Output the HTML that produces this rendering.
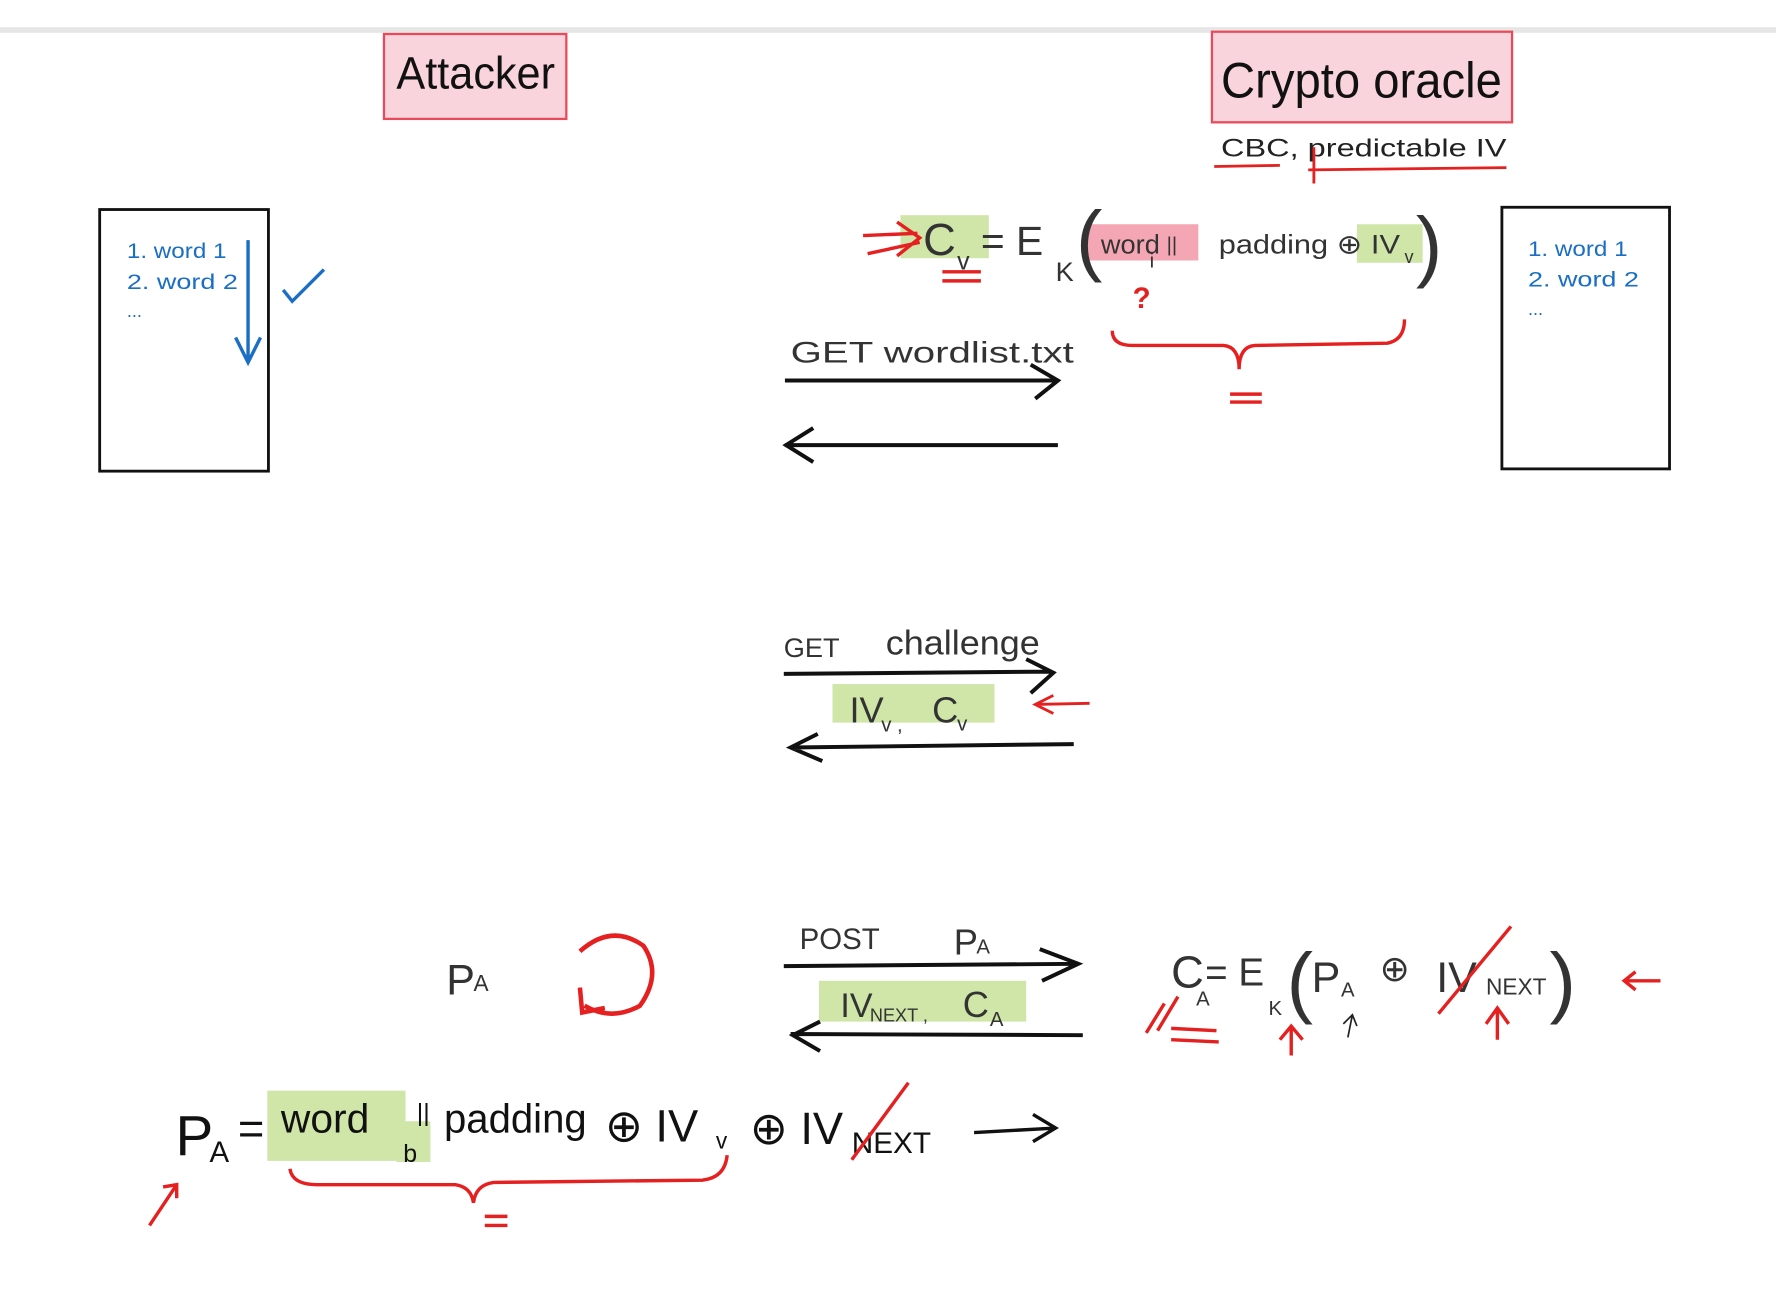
<!DOCTYPE html>
<html><head><meta charset="utf-8"><style>
html,body{margin:0;padding:0;background:#fff;}
svg{display:block}
text{font-family:"Liberation Sans",sans-serif}
</style></head><body>
<svg width="1776" height="1290" viewBox="0 0 1568 1139" preserveAspectRatio="none">
<rect x="0" y="0" width="1568" height="26" fill="#fff"/>
<rect x="0" y="24" width="1568" height="5" fill="#e6e6e6"/>
<g>
<rect x="339" y="30" width="161" height="75" fill="#f9d4dc" stroke="#e84a5a" stroke-width="2"/>
<text x="350" y="78" font-size="40" fill="#111" textLength="140" lengthAdjust="spacingAndGlyphs">Attacker</text>
</g>
<g>
<rect x="1070" y="28" width="265" height="80" fill="#f9d4dc" stroke="#e84a5a" stroke-width="2"/>
<text x="1078" y="86" font-size="44" fill="#111" textLength="248" lengthAdjust="spacingAndGlyphs">Crypto oracle</text>
<text x="1078" y="138" font-size="22" fill="#222" textLength="252" lengthAdjust="spacingAndGlyphs">CBC, predictable IV</text>
<path d="M1072 147 L1130 146 M1155 150 L1330 148 M1160 130 L1160 162" stroke="#e52020" stroke-width="2.5" fill="none"/>
</g>
<g>
<rect x="88" y="185" width="149" height="231" fill="none" stroke="#111" stroke-width="2.5"/>
<text x="112" y="228" font-size="19" fill="#1a6fc4" textLength="88" lengthAdjust="spacingAndGlyphs">1. word 1</text>
<text x="112" y="255" font-size="19" fill="#1a6fc4" textLength="98" lengthAdjust="spacingAndGlyphs">2. word 2</text>
<text x="112" y="280" font-size="16" fill="#1a6fc4">...</text>
<path d="M219 212 L219 318 M208 298 L219 320 L230 298 M250 256 L258 266 L286 238" stroke="#1a6fc4" stroke-width="3" fill="none"/>
</g>
<g>
<rect x="1326" y="183" width="148" height="231" fill="none" stroke="#111" stroke-width="2.5"/>
<text x="1349" y="226" font-size="19" fill="#1a6fc4" textLength="88" lengthAdjust="spacingAndGlyphs">1. word 1</text>
<text x="1349" y="253" font-size="19" fill="#1a6fc4" textLength="98" lengthAdjust="spacingAndGlyphs">2. word 2</text>
<text x="1349" y="278" font-size="16" fill="#1a6fc4">...</text>
</g>
<g>
<rect x="795" y="190" width="78" height="38" fill="#cfe6a8"/>
<rect x="960" y="198" width="98" height="32" fill="#f4a6b4"/>
<rect x="1198" y="198" width="58" height="34" fill="#cfe6a8"/>
<text x="815" y="225" font-size="40" fill="#333">C</text><text x="845" y="238" font-size="22" fill="#333">v</text>
<text x="866" y="225" font-size="36" fill="#333">= E</text><text x="932" y="248" font-size="24" fill="#333">K</text>
<text x="950" y="235" font-size="70" fill="#333" font-weight="100">(</text>
<text x="972" y="224" font-size="24" fill="#333">word</text><text x="1015" y="236" font-size="18" fill="#333">i</text>
<text x="1030" y="222" font-size="18" fill="#333">||</text>
<text x="1076" y="224" font-size="24" fill="#333" textLength="160" lengthAdjust="spacingAndGlyphs">padding ⊕ IV</text><text x="1240" y="232" font-size="16" fill="#333">v</text>
<text x="1250" y="240" font-size="70" fill="#333">)</text>
<path d="M762 208 L810 206 M766 224 L812 214 M792 196 L812 210 L792 226 M832 240 L866 240 M832 248 L866 248" stroke="#e52020" stroke-width="3" fill="none"/>
<text x="1000" y="272" font-size="26" fill="#e52020" font-weight="bold">?</text>
<path d="M982 292 Q982 305 1000 305 L1080 305 Q1094 306 1094 326 Q1094 306 1108 305 L1225 303 Q1240 300 1240 282 M1086 348 L1114 348 M1086 355 L1114 355" stroke="#e52020" stroke-width="3" fill="none"/>
</g>
<g>
<text x="698" y="320" font-size="26" fill="#333" textLength="250" lengthAdjust="spacingAndGlyphs">GET  wordlist.txt</text>
<path d="M693 336 L934 336 M910 322 L934 336 L914 352" stroke="#111" stroke-width="3.5" fill="none"/>
<path d="M693 393 L934 393 M718 378 L694 393 L718 408" stroke="#111" stroke-width="3.5" fill="none"/>
</g>
<g>
<text x="692" y="580" font-size="24" fill="#333">GET</text>
<text x="782" y="578" font-size="30" fill="#333" textLength="136" lengthAdjust="spacingAndGlyphs">challenge</text>
<path d="M692 595 L928 593 M906 582 L930 594 L910 612" stroke="#111" stroke-width="3.5" fill="none"/>
<rect x="735" y="604" width="143" height="34" fill="#cfe6a8"/>
<text x="750" y="638" font-size="32" fill="#333">IV</text><text x="778" y="646" font-size="18" fill="#333">v ,</text>
<text x="823" y="638" font-size="32" fill="#333">C</text><text x="845" y="645" font-size="18" fill="#333">v</text>
<path d="M914 622 L962 621 M930 614 L914 622 L930 630" stroke="#e52020" stroke-width="2.5" fill="none"/>
<path d="M698 660 L948 657 M722 648 L698 660 L726 672" stroke="#111" stroke-width="3.5" fill="none"/>
</g>
<g>
<text x="394" y="878" font-size="38" fill="#333">P</text><text x="418" y="875" font-size="20" fill="#333">A</text>
<path d="M512 840 Q540 815 568 835 Q585 860 565 888 Q540 902 516 888 M512 872 L514 894 L534 890" stroke="#e52020" stroke-width="4" fill="none"/>
<text x="706" y="838" font-size="26" fill="#333">POST</text>
<text x="842" y="843" font-size="32" fill="#333">P</text><text x="862" y="842" font-size="18" fill="#333">A</text>
<path d="M692 853 L952 851 M918 838 L952 851 L920 866" stroke="#111" stroke-width="3.5" fill="none"/>
<rect x="723" y="866" width="183" height="36" fill="#cfe6a8"/>
<text x="742" y="898" font-size="30" fill="#333">IV</text><text x="768" y="902" font-size="16" fill="#333">NEXT ,</text>
<text x="850" y="898" font-size="32" fill="#333">C</text><text x="874" y="906" font-size="18" fill="#333">A</text>
<path d="M698 913 L956 914 M724 902 L700 914 L724 928" stroke="#111" stroke-width="3.5" fill="none"/>
</g>
<g>
<text x="1034" y="872" font-size="40" fill="#333">C</text><text x="1056" y="888" font-size="18" fill="#333">A</text>
<text x="1064" y="870" font-size="34" fill="#333">= E</text><text x="1120" y="896" font-size="18" fill="#333">K</text>
<text x="1136" y="890" font-size="70" fill="#333">(</text>
<text x="1158" y="876" font-size="38" fill="#333">P</text><text x="1184" y="880" font-size="18" fill="#333">A</text>
<text x="1218" y="866" font-size="32" fill="#333">⊕</text>
<text x="1268" y="876" font-size="38" fill="#333">IV</text><text x="1312" y="878" font-size="20" fill="#333">NEXT</text>
<text x="1368" y="890" font-size="70" fill="#333">)</text>
<path d="M1270 895 L1334 818 M1012 912 L1028 886 M1022 910 L1040 880 M1034 908 L1074 910 M1034 918 L1076 920 M1140 932 L1140 908 M1130 918 L1140 906 L1150 918 M1322 918 L1322 892 M1312 904 L1322 890 L1332 904 M1434 866 L1466 866 M1444 858 L1434 866 L1444 874" stroke="#e52020" stroke-width="3" fill="none"/>
<path d="M1190 916 L1194 896 M1186 904 L1194 896 L1198 906" stroke="#222" stroke-width="1.5" fill="none"/>
</g>
<g>
<rect x="236" y="963" width="122" height="62" fill="#cfe6a8"/>
<rect x="350" y="990" width="30" height="36" fill="#cfe6a8"/>
<text x="155" y="1020" font-size="50" fill="#111">P</text><text x="185" y="1026" font-size="26" fill="#111">A</text>
<text x="210" y="1010" font-size="40" fill="#111">=</text>
<text x="248" y="1000" font-size="36" fill="#111">word</text><text x="356" y="1026" font-size="22" fill="#111">b</text>
<text x="368" y="990" font-size="22" fill="#111">||</text>
<text x="392" y="1000" font-size="36" fill="#111" textLength="126" lengthAdjust="spacingAndGlyphs">padding</text>
<text x="534" y="1008" font-size="40" fill="#111">⊕ IV</text><text x="632" y="1014" font-size="20" fill="#111">v</text>
<text x="662" y="1010" font-size="40" fill="#111">⊕ IV</text><text x="752" y="1018" font-size="26" fill="#111" textLength="70" lengthAdjust="spacingAndGlyphs">NEXT</text>
<path d="M860 1000 L932 996 M912 984 L932 996 L912 1008" stroke="#111" stroke-width="3" fill="none"/>
<path d="M752 1024 L802 956 M132 1082 L156 1046 M144 1048 L156 1046 L156 1058 M256 1032 Q258 1046 280 1046 L402 1046 Q416 1048 418 1062 Q420 1046 436 1044 L620 1042 Q640 1040 642 1020 M428 1074 L448 1074 M428 1082 L448 1082" stroke="#e52020" stroke-width="3" fill="none"/>
</g>
</svg>
</body></html>
